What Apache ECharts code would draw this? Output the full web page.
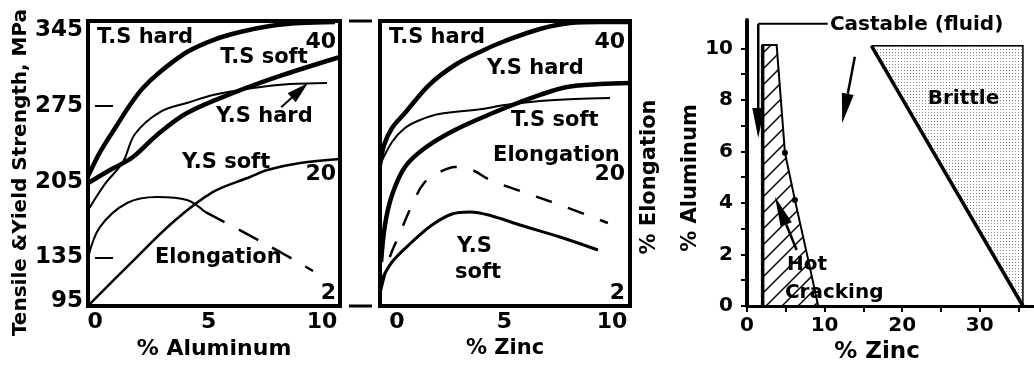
<!DOCTYPE html>
<html><head><meta charset="utf-8">
<script src="https://cdn.jsdelivr.net/npm/echarts@6/dist/echarts.min.js"></script>
<style>html,body{margin:0;padding:0;background:#fff}#c{width:1034px;height:371px}</style>
</head><body><div id="c"></div>
<script>
// ---------- tick labels ----------
const strengthTicks = [95, 135, 205, 275, 345];
const strengthTickMarks = [135, 275];
const elongTicks = [2, 20, 40];
const pctTicks = [0, 5, 10];
const zincTicks = [0, 10, 20, 30];
const zincTickMarks = [0, 5, 10, 15, 20, 25, 30, 35];
const alTicks = [0, 2, 4, 6, 8, 10];
const alTickMarks = [0, 1, 2, 3, 4, 5, 6, 7, 8, 9, 10];

// ---------- panel 1 : % Aluminum (MPa / % elongation) ----------
const alTSHard = [[-0.3,210.4],[0.22,232.5],[0.97,257.5],[1.54,276.0],[2.11,291.7],[2.86,306.5],[4.05,325.0],[5.20,336.1],[6.39,343.5],[7.71,349.0],[9.03,351.8],[10.57,352.8]];
const alTSSoft = [[-0.3,203.9],[0.66,215.9],[1.67,227.9],[2.73,248.3],[4.05,268.6],[6.08,287.1],[8.28,303.8],[10.79,320.4]];
const alYSHard = [[-0.3,178.9],[0.44,203.0],[1.23,223.3],[1.76,249.2],[2.86,269.5],[4.19,278.8],[5.20,285.3],[6.96,291.7],[8.59,295.4],[10.22,296.4]];
const alYSSoft = [[-0.3,90.5],[1.54,129.0],[3.44,167.8],[5.20,195.6],[6.83,209.4],[7.58,215.9],[9.03,222.4],[10.79,226.1]];
const alElongSolid = [[-0.3,7.45],[0.22,12.01],[1.41,15.65],[2.73,16.57],[4.05,16.11],[4.85,14.29]];
const alElongDashed = [[4.85,14.29],[6.52,11.25],[8.15,8.21],[9.60,5.32]];
const alLabels = [['T.S hard',0.09,338.0],['T.S soft',5.51,319.5],['Y.S hard',5.33,264.9],['Y.S soft',3.83,222.4],['Elongation',2.64,134.5]];
const alArrows = [[8.2,274.0,9.38,296.4]];

// ---------- panel 2 : % Zinc ----------
const znTSHard = [[-0.79,220.5],[-0.60,239.0],[-0.23,254.7],[0.37,268.6],[1.49,294.5],[2.70,313.0],[3.95,326.0],[5.02,335.2],[6.65,346.3],[8.05,351.8],[9.44,352.8],[10.84,352.8]];
const znTSSoft = [[-0.79,220.5],[-0.23,241.8],[0.37,254.7],[1.07,262.1],[1.95,267.7],[3.95,272.3],[5.02,276.0],[6.65,279.7],[8.28,281.6],[9.91,282.5]];
const znYSHard = [[-0.74,130.8],[-0.56,165.0],[-0.23,192.8],[0.37,218.7],[1.30,236.2],[2.70,252.9],[5.02,273.2],[6.65,285.3],[7.91,292.7],[9.44,295.4],[10.84,296.4]];
const znYSSoft = [[-0.79,111.1],[-0.23,130.8],[0.70,149.3],[1.63,165.0],[2.56,175.2],[3.40,177.1],[4.42,173.4],[5.72,165.0],[7.58,153.9],[9.35,141.9]];
const znElong = [[-0.74,2.43],[-0.33,7.45],[0.14,11.09],[0.70,15.35],[1.26,18.69],[2.00,20.36],[2.70,21.12],[3.49,20.67],[4.33,19.15],[5.72,17.48],[7.58,15.35],[9.81,12.61]];
const znLabels = [['T.S hard',-0.37,338.0],['Y.S hard',4.19,309.3],['T.S soft',5.30,261.2],['Elongation',4.47,228.8],['Y.S',2.79,144.7],['soft',2.70,120.6]];

// ---------- panel 3 : castability map (% Zinc vs % Aluminum) ----------
const hotCrackingPoly = [[2.02,0],[2.02,10.13],[3.82,10.13],[4.89,5.95],[6.18,4.11],[7.9,1.78],[9.18,0]];
const hotCrackingDots = [[4.89,5.95],[6.18,4.11]];
const brittlePoly = [[16.05,10.1],[35.57,10.1],[35.57,0]];
const castableLeader = [[10.4,10.95],[1.45,10.95]];
const mapArrows = [[1.45,10.95,1.45,6.52],[13.9,9.67,12.27,7.09],[6.4,2.17,3.6,4.24]];
const mapLabels = [['Castable (fluid)',10.69,10.9],['Brittle',23.3,8.03],['Hot',5.15,1.59],['Cracking',4.89,0.5]];

// ---------- helpers ----------
const FONT = 'DejaVu Sans';
function txt(size) { return {fontFamily: FONT, fontWeight: 'bold', fontSize: size, color: '#000'}; }
function makeTile(size, draw) {
  const c = document.createElement('canvas'); c.width = c.height = size;
  const g = c.getContext('2d'); draw(g, size); return c;
}
const hatchTile = makeTile(16, (g, s) => {
  g.strokeStyle = '#000'; g.lineWidth = 1.5; g.beginPath();
  g.moveTo(0, s); g.lineTo(s, 0);
  g.moveTo(-2, 2); g.lineTo(2, -2);
  g.moveTo(s - 2, s + 2); g.lineTo(s + 2, s - 2);
  g.stroke();
});
const stippleTile = makeTile(3, (g) => {
  g.fillStyle = '#fff'; g.fillRect(0, 0, 3, 3);
  g.fillStyle = '#8a8a8a'; g.fillRect(1, 1, 1, 1);
});

function lineSeries(data, xi, yi, width, dash) {
  return {type: 'line', xAxisIndex: xi, yAxisIndex: yi, data: data, symbol: 'none', smooth: 0.35,
    silent: true, lineStyle: {color: '#000', width: width, type: dash || 'solid'}, z: 3};
}
function labelSeries(list, xi, yi, size) {
  return {type: 'scatter', xAxisIndex: xi, yAxisIndex: yi, symbolSize: 0, silent: true, z: 6,
    itemStyle: {opacity: 1, color: '#000'},
    data: list.map(l => ({name: l[0], value: [l[1], l[2]]})),
    label: Object.assign({show: true, formatter: '{b}', position: [0, 0], align: 'left', verticalAlign: 'middle', opacity: 1}, txt(size))};
}
function arrowSeries(list, xi, yi, headLen, headW, width) {
  return {type: 'custom', coordinateSystem: 'cartesian2d', xAxisIndex: xi, yAxisIndex: yi, silent: true, z: 5,
    data: list,
    renderItem: function (params, api) {
      const p1 = api.coord([api.value(0), api.value(1)]);
      const p2 = api.coord([api.value(2), api.value(3)]);
      const dx = p2[0] - p1[0], dy = p2[1] - p1[1], d = Math.hypot(dx, dy);
      const ux = dx / d, uy = dy / d, nx = -uy, ny = ux;
      const bx = p2[0] - ux * headLen, by = p2[1] - uy * headLen;
      return {type: 'group', children: [
        {type: 'line', shape: {x1: p1[0], y1: p1[1], x2: bx, y2: by}, style: {stroke: '#000', lineWidth: width}},
        {type: 'polygon', shape: {points: [p2, [bx + nx * headW / 2, by + ny * headW / 2], [bx - nx * headW / 2, by - ny * headW / 2]]},
          style: {fill: '#000'}}
      ]};
    }};
}

const chart = echarts.init(document.getElementById('c'), null, {renderer: 'canvas'});
const option = {
  animation: false,
  backgroundColor: '#fff',
  grid: [
    {left: 88, top: 21, width: 252, height: 285, show: true, borderColor: '#000', borderWidth: 4, backgroundColor: 'transparent'},
    {left: 380, top: 21, width: 250, height: 285, show: true, borderColor: '#000', borderWidth: 4, backgroundColor: 'transparent'},
    {left: 747, top: 20, width: 287, height: 286, show: false}
  ],
  xAxis: [
    {type: 'value', gridIndex: 0, min: -0.31, max: 10.79, splitLine: {show: false}, axisLine: {show: false}, axisTick: {show: false},
      axisLabel: Object.assign({customValues: pctTicks, margin: 5}, txt(22)),
      name: '% Aluminum', nameLocation: 'middle', nameGap: 25, nameTextStyle: txt(22)},
    {type: 'value', gridIndex: 1, min: -0.79, max: 10.84, splitLine: {show: false}, axisLine: {show: false}, axisTick: {show: false},
      axisLabel: Object.assign({customValues: pctTicks, margin: 5}, txt(22)),
      name: '% Zinc', nameLocation: 'middle', nameGap: 25, nameTextStyle: txt(21)},
    {type: 'value', gridIndex: 2, min: 0, max: 37, splitLine: {show: false},
      axisLine: {show: true, onZero: false, lineStyle: {color: '#000', width: 3}},
      axisTick: {show: true, customValues: zincTickMarks, length: 6, lineStyle: {color: '#000', width: 2}},
      axisLabel: Object.assign({customValues: zincTicks, margin: 10}, txt(20)),
      name: '% Zinc', nameLocation: 'middle', nameGap: 27, nameTextStyle: Object.assign({padding: [0, 27, 0, 0]}, txt(23))}
  ],
  yAxis: [
    {type: 'value', gridIndex: 0, position: 'left', min: 90.1, max: 353.7, splitLine: {show: false}, axisLine: {show: false},
      axisTick: {show: true, inside: true, length: 18, customValues: strengthTickMarks, lineStyle: {color: '#000', width: 2}},
      axisLabel: Object.assign({customValues: strengthTicks, margin: 5}, txt(23)),
      name: 'Tensile &Yield Strength, MPa', nameLocation: 'middle', nameGap: 53,
      nameTextStyle: Object.assign({padding: [0, 18, 0, 0]}, txt(20))},
    {type: 'value', gridIndex: 0, position: 'right', min: 0, max: 43.3, splitLine: {show: false}, axisLine: {show: false}, axisTick: {show: false},
      axisLabel: Object.assign({customValues: elongTicks, inside: true, margin: 4}, txt(22))},
    {type: 'value', gridIndex: 1, position: 'left', min: 90.1, max: 353.7, show: false},
    {type: 'value', gridIndex: 1, position: 'right', min: 0, max: 43.3, splitLine: {show: false}, axisLine: {show: false}, axisTick: {show: false},
      axisLabel: Object.assign({customValues: elongTicks, inside: true, margin: 5}, txt(22)),
      name: '% Elongation', nameLocation: 'middle', nameGap: 9,
      nameTextStyle: Object.assign({padding: [0, 27, 0, 0]}, txt(21))},
    {type: 'value', gridIndex: 2, min: 0, max: 11.1, splitLine: {show: false},
      axisLine: {show: true, onZero: false, lineStyle: {color: '#000', width: 4}},
      axisTick: {show: true, customValues: alTickMarks, length: 6, lineStyle: {color: '#000', width: 2}},
      axisLabel: Object.assign({customValues: alTicks, margin: 14}, txt(20)),
      name: '% Aluminum', nameLocation: 'middle', nameGap: 40,
      nameTextStyle: Object.assign({padding: [0, 30, 0, 0]}, txt(21))}
  ],
  graphic: [
    {type: 'line', shape: {x1: 349, y1: 21, x2: 372, y2: 21}, style: {stroke: '#000', lineWidth: 3}},
    {type: 'line', shape: {x1: 349, y1: 306, x2: 372, y2: 306}, style: {stroke: '#000', lineWidth: 3}}
  ],
  series: [
    // panel 1
    lineSeries(alTSHard, 0, 0, 4.5),
    lineSeries(alTSSoft, 0, 0, 4.5),
    lineSeries(alYSHard, 0, 0, 2),
    lineSeries(alYSSoft, 0, 0, 2.5),
    lineSeries(alElongSolid, 0, 1, 2),
    lineSeries(alElongDashed, 0, 1, 2.5, [22, 16]),
    labelSeries(alLabels, 0, 0, 21),
    arrowSeries(alArrows, 0, 0, 22, 12, 2),
    // panel 2
    lineSeries(znTSHard, 1, 2, 4.5),
    lineSeries(znYSHard, 1, 2, 4.5),
    lineSeries(znTSSoft, 1, 2, 2),
    lineSeries(znYSSoft, 1, 2, 3),
    lineSeries(znElong, 1, 3, 2.5, [17, 17]),
    labelSeries(znLabels, 1, 2, 21),
    // panel 3
    {type: 'custom', coordinateSystem: 'cartesian2d', xAxisIndex: 2, yAxisIndex: 4, silent: true, z: 2, data: [0],
      renderItem: function (params, api) {
        const pts = brittlePoly.map(p => api.coord(p));
        return {type: 'group', children: [
          {type: 'polygon', shape: {points: pts}, style: {fill: {image: stippleTile, repeat: 'repeat'}}},
          {type: 'polyline', shape: {points: [pts[0], pts[1], pts[2]]}, style: {stroke: '#000', lineWidth: 1.5, fill: null}},
          {type: 'line', shape: {x1: pts[0][0], y1: pts[0][1], x2: pts[2][0], y2: pts[2][1]}, style: {stroke: '#000', lineWidth: 3.5}}
        ]};
      }},
    {type: 'custom', coordinateSystem: 'cartesian2d', xAxisIndex: 2, yAxisIndex: 4, silent: true, z: 2, data: [0],
      renderItem: function (params, api) {
        const pts = hotCrackingPoly.map(p => api.coord(p));
        return {type: 'group', children: [
          {type: 'polygon', shape: {points: pts}, style: {fill: {image: hatchTile, repeat: 'repeat'}, stroke: '#000', lineWidth: 2}},
          {type: 'line', shape: {x1: pts[0][0], y1: pts[0][1], x2: pts[1][0], y2: pts[1][1]}, style: {stroke: '#000', lineWidth: 3.5}}
        ]};
      }},
    {type: 'scatter', xAxisIndex: 2, yAxisIndex: 4, data: hotCrackingDots, symbolSize: 6, silent: true, z: 4,
      itemStyle: {color: '#000', opacity: 1}},
    {type: 'line', xAxisIndex: 2, yAxisIndex: 4, data: castableLeader, symbol: 'none', silent: true, z: 4,
      lineStyle: {color: '#000', width: 2}},
    arrowSeries(mapArrows, 2, 4, 30, 12, 2.5),
    labelSeries(mapLabels, 2, 4, 20)
  ]
};
chart.setOption(option);
</script>
</body></html>
